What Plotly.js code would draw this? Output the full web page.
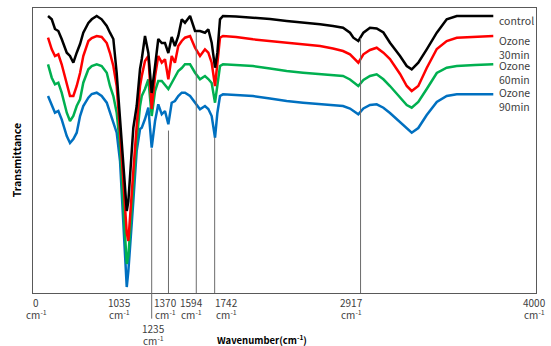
<!DOCTYPE html>
<html>
<head>
<meta charset="utf-8">
<script src="https://cdn.plot.ly/plotly-3.0.1.min.js"></script>
<style>html,body{margin:0;padding:0;background:#fff;}#chart{width:551px;height:346px;}</style>
</head>
<body>
<div id="chart"></div>
<script>
// Wavenumber (cm-1) sample points
const wavenumber = [400,430,456,483,510,551,577,604,631,658,684,725,752,792,832,873,899,926,953,980,1004,1020,1034,1047,1060,1087,1114,1141,1155,1181,1208,1235,1262,1288,1316,1342,1369,1396,1422,1449,1477,1503,1544,1584,1624,1664,1691,1718,1745,1764,1785,1809,1914,2051,2188,2322,2454,2591,2695,2776,2832,2859,2899,2940,2993,3047,3101,3154,3235,3289,3329,3382,3450,3531,3611,3692,3839,3986];

// Transmittance (arbitrary units, offset spectra)
const control = [277,273.7,264,262,254,240.3,237,230.3,240.3,249,260.3,270,273.7,277,273.7,267,260.3,254,220,172,127,102,82,92,117,165.3,187,224,234,257,240,200,227,254,250,250,240,256,247,257,273.7,270.3,277,262,262,260.3,263.7,250.3,225.3,240.3,273.7,277,276.5,275.3,274,272,270.5,268.7,267,265.3,260.3,255.3,252,260.3,265.3,264.5,260.5,250.3,237,227,223.7,230.3,243.7,260.3,273.7,277,277,277];
const ozone30 = [255.3,243.7,237,238.7,228.7,210.3,197,197,207,220,237,252,255,257,256,250,240,227,207,162,112,82,60,52,72,122,167,207,217,232,237,184,217,237,230.3,233.7,213.7,237,230.3,247,252,255.3,257,245.3,237,243.7,240.3,230.3,207,227,255.3,257,256,253.7,252,250.3,248.7,247,244.5,242,238.7,235.3,230.3,238.7,243,245.3,240.3,234,219,207,202,207,225,244,252,255.3,256.5,257];
const ozone60 = [228.7,215.3,208.7,210.3,200.3,180.3,172,177,187,193.7,210.3,223.7,227,228.7,227,220.3,207,197,180.3,147,92,52,29,37,57,107,152,187,197,204,213.7,177,202,212,212,208,204,210,215.3,222,225,228.7,228.7,220.3,213.7,217,214,210,190.3,207,227,228.7,228,227,224.5,222,220.3,218.7,218,217,213.5,211,207,213,217,218.7,213.7,207,196,188,185.3,191,204,220,225.3,227,228,228.7];
const ozone90 = [197,187,180.3,182,173.7,157,150,154,160.3,177,187,195.3,199,200.3,197,190.3,180.3,172,160.3,132,77,32,6,22,42,92,142,164,165.3,174,185.3,145.3,172,188.7,178.7,182,168.7,190.3,192,197,200.3,200.3,197,190.3,183.7,187,184,177,155.3,180.3,197,198.7,198,197,194.5,192,190.3,188.7,188,187,184.5,182,178.7,184.5,188,188.7,185.3,180,171,164,160.3,165,178,191,197,198.7,198.7,198.7];

const seriesNames = ['control', 'Ozone<br>30min', 'Ozone<br>60min', 'Ozone<br>90min'];

// Marked band positions and axis labels
const peakMarks = [1235, 1370, 1594, 1742, 2917];
const axisLabelValues = [0, 1035, 1235, 1370, 1594, 1742, 2917, 4000];
const axisUnit = 'cm<sup>-1</sup>';

// ---- styling / layout config ----
const colors = ['#000000', '#FF0000', '#00B050', '#0070C0'];
const xRange = [279, 4330];
const yRange = [0, 285];
const peakLineTop = {1235: 0.507, 1370: 0.57, 1594: 0.915, 1742: 0.546, 2917: 0.894};
const peakLineBottom = {1235: -0.09};
const labelShift = {0: 3, 1035: -7, 1235: 2, 1370: -3, 1594: -5, 1742: 12, 2917: -9, 4000: -2};
const lowerRow = {1235: true};
const legendYShift = [5, 5, 8, 11];
const fam = 'Noto Sans CJK KR, Noto Sans, sans-serif';

const allY = [control, ozone30, ozone60, ozone90];
const drawOrder = [3, 2, 1, 0];
const traces = drawOrder.map(i => ({
  x: wavenumber, y: allY[i], type: 'scatter', mode: 'lines',
  line: {color: colors[i], width: 2.5}, name: seriesNames[i], hoverinfo: 'skip'
}));

const shapes = peakMarks.map(p => ({
  type: 'line', xref: 'x', yref: 'paper', x0: p, x1: p,
  y0: (peakLineBottom[p] !== undefined ? peakLineBottom[p] : 0), y1: peakLineTop[p],
  line: {color: '#6b6b6b', width: 1}
}));

const tickFont = {family: fam, size: 10, color: '#404040'};
const annotations = [];
axisLabelValues.forEach(v => {
  let xref = 'x', x = v;
  if (v < xRange[0]) { xref = 'paper'; x = 0; }
  else if (v === axisLabelValues[axisLabelValues.length - 1]) { xref = 'paper'; x = 1; }
  const base = lowerRow[v] ? -35 : -9;
  [String(v), axisUnit].forEach((t, k) => {
    annotations.push({
      text: t, xref: xref, yref: 'paper', x: x, y: 0,
      xanchor: 'center', yanchor: 'middle', showarrow: false,
      xshift: labelShift[v] || 0, yshift: base - 12 * k,
      font: tickFont, borderpad: 0
    });
  });
});
allY.forEach((ys, i) => {
  annotations.push({
    text: seriesNames[i], xref: 'x', yref: 'y',
    x: wavenumber[wavenumber.length - 1], y: ys[ys.length - 1],
    xanchor: 'left', yanchor: 'top', showarrow: false, align: 'left',
    xshift: 4, yshift: legendYShift[i],
    font: {family: fam, size: 10.5, color: '#404040'}
  });
});
annotations.push({
  text: '<b>Wavenumber(cm<sup>-1</sup>)</b>', xref: 'paper', yref: 'paper',
  x: 0.455, y: 0, xanchor: 'center', yanchor: 'middle', yshift: -46, showarrow: false,
  font: {family: fam, size: 9.5, color: '#000'}, borderpad: 0
});
annotations.push({
  text: '<b>Transmittance</b>', xref: 'paper', yref: 'paper', textangle: -90,
  x: 0, y: 0.466, xanchor: 'center', yanchor: 'middle', xshift: -17, showarrow: false,
  font: {family: fam, size: 10.5, color: '#000'}
});

const layout = {
  width: 551, height: 346,
  margin: {l: 33, r: 15, t: 8, b: 53},
  paper_bgcolor: '#ffffff', plot_bgcolor: '#ffffff',
  showlegend: false,
  xaxis: {range: xRange, showgrid: false, zeroline: false, showticklabels: false, ticks: '',
          showline: true, mirror: true, linecolor: '#595959', linewidth: 1},
  yaxis: {range: yRange, showgrid: false, zeroline: false, showticklabels: false, ticks: '',
          showline: true, mirror: true, linecolor: '#595959', linewidth: 1},
  shapes: shapes,
  annotations: annotations
};

Plotly.newPlot('chart', traces, layout, {staticPlot: true, displayModeBar: false});
</script>
</body>
</html>
